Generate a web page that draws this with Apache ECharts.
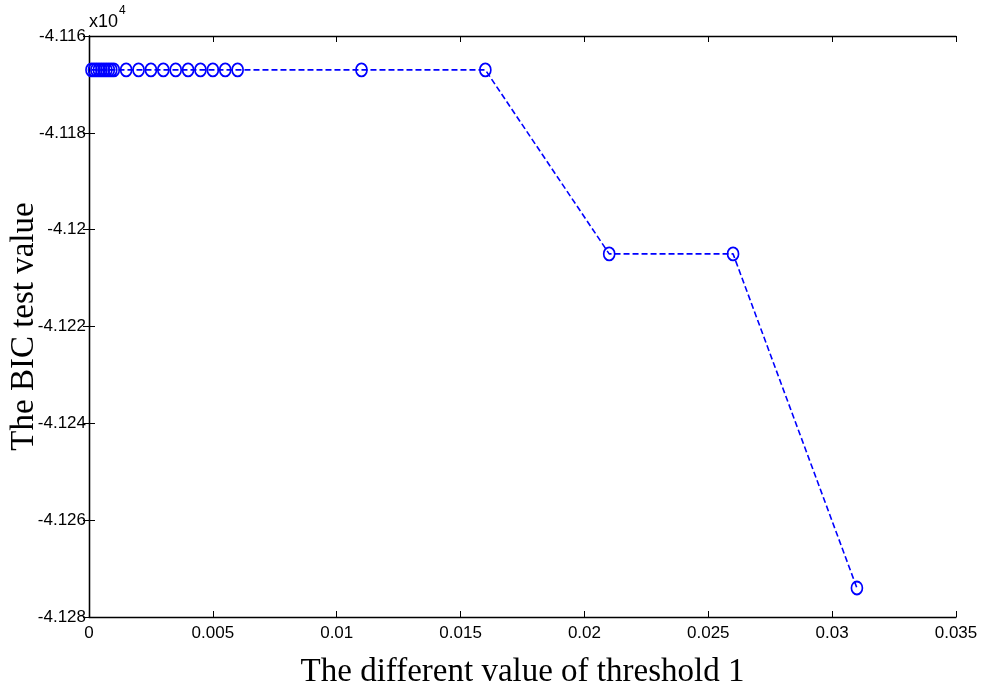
<!DOCTYPE html>
<html>
<head>
<meta charset="utf-8">
<script src="https://cdn.jsdelivr.net/npm/echarts@6/dist/echarts.min.js"></script>
<style>html,body{margin:0;padding:0;background:#fff}#c{width:982px;height:690px}</style>
</head>
<body>
<div id="c"></div>
<script>
const thresholds = [0.0001,0.0002,0.0003,0.0004,0.0005,0.0006,0.0007,0.0008,0.0009,0.001,
  0.0015,0.002,0.0025,0.003,0.0035,0.004,0.0045,0.005,0.0055,0.006,
  0.011,0.016,0.021,0.026,0.031];
const bicValues = [-41167,-41167,-41167,-41167,-41167,-41167,-41167,-41167,-41167,-41167,
  -41167,-41167,-41167,-41167,-41167,-41167,-41167,-41167,-41167,-41167,
  -41167,-41167,-41205,-41205,-41274];
const xTicks = ['0','0.005','0.01','0.015','0.02','0.025','0.03','0.035'];
const yTicks = ['-4.128','-4.126','-4.124','-4.122','-4.12','-4.118','-4.116'];

const chart = echarts.init(document.getElementById('c'));
const tickFont = {fontFamily:'Liberation Sans, Arial, sans-serif', fontSize:17, color:'#000'};
const fmtX = v => String(parseFloat(v.toFixed(4)));
const fmtY = v => String(parseFloat((v/10000).toFixed(4)));
const axisLine = {show:true, lineStyle:{color:'#000', width:1.3}};
const axisTick = {show:true, inside:true, length:6, lineStyle:{color:'#000', width:1}};
chart.setOption({
  animation:false,
  backgroundColor:'#fff',
  grid:{left:89, right:26, top:36, bottom:73, show:false, containLabel:false, outerBoundsMode:'none'},
  graphic:[{
    type:'text', left:89, top:5,
    style:{text:'{a|x10}{b|4}', rich:{
      a:{fontFamily:'Liberation Sans, Arial', fontSize:18, fill:'#000', verticalAlign:'bottom'},
      b:{fontFamily:'Liberation Sans, Arial', fontSize:12, fill:'#000', verticalAlign:'top', padding:[0,0,14,1]}
    }}
  }],
  xAxis:[{
    type:'value', min:0, max:0.035, interval:0.005,
    name:'The different value of threshold 1', nameLocation:'middle', nameGap:39,
    nameMoveOverlap:false,
    nameTextStyle:{fontFamily:'Liberation Serif, serif', fontSize:33, color:'#000'},
    axisLine, axisTick, splitLine:{show:false},
    axisLabel:{...tickFont, margin:8, formatter:fmtX}
  },{
    type:'value', min:0, max:0.035, interval:0.005, position:'top',
    axisLine, axisTick, splitLine:{show:false}, axisLabel:{show:false}
  }],
  yAxis:[{
    type:'value', min:-41280, max:-41160, interval:20,
    name:'The BIC test value', nameLocation:'middle', nameGap:48,
    nameMoveOverlap:false,
    nameTextStyle:{fontFamily:'Liberation Serif, serif', fontSize:33, color:'#000'},
    axisLine, axisTick, splitLine:{show:false},
    axisLabel:{...tickFont, margin:3, formatter:fmtY}
  },{
    type:'value', min:-41280, max:-41160, interval:20, position:'right',
    axisLine, axisTick, splitLine:{show:false}, axisLabel:{show:false}
  }],
  series:[{
    type:'line',
    data: thresholds.map((x,i)=>[x, bicValues[i]]),
    symbol:'circle', symbolSize:[11,13],
    itemStyle:{color:'rgba(255,255,255,0)', borderColor:'#0000ff', borderWidth:1.8},
    lineStyle:{color:'#0000ff', width:1.6, type:[6,3]},
    z:3
  }]
});
</script>
</body>
</html>
